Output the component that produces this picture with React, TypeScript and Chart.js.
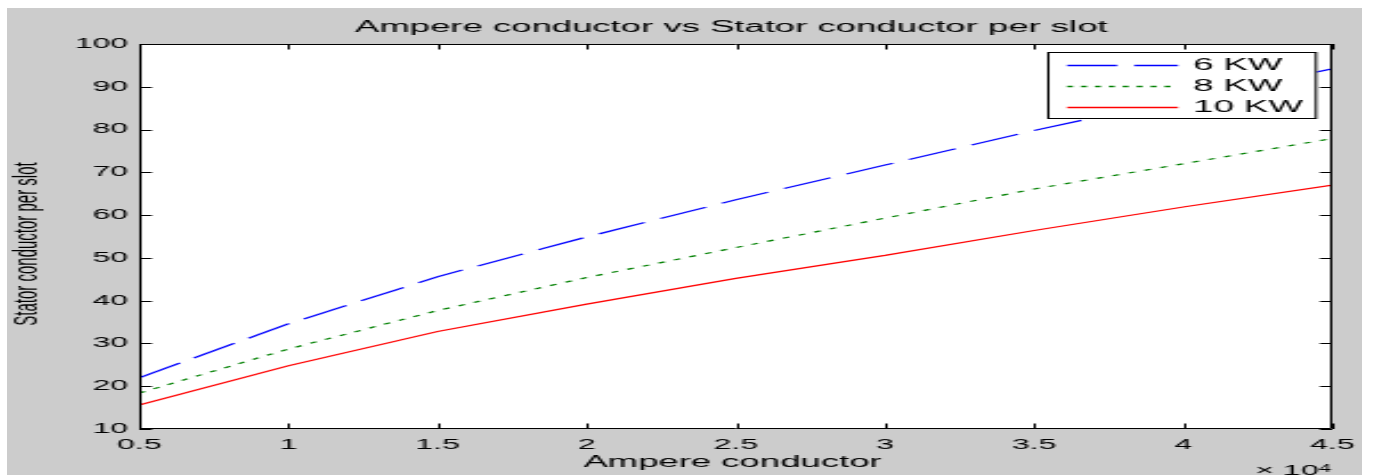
import React, { useEffect, useRef } from 'react';
import { Chart, registerables } from 'chart.js';

Chart.register(...registerables);

// ---- data (x in ampere conductors, displayed as x10^4) ----
const ampereConductor = [5000, 10000, 15000, 20000, 25000, 30000, 35000, 40000, 45000];
const kw6 = [22.0, 34.6, 45.6, 54.9, 63.6, 71.7, 79.8, 87.2, 94.2];
const kw8 = [18.4, 28.7, 37.7, 45.4, 52.4, 59.3, 66.1, 72.0, 77.9];
const kw10 = [15.6, 24.8, 32.8, 39.2, 45.2, 50.6, 56.4, 61.9, 67.0];
const seriesLabels = ['6 KW', '8 KW', '10 KW'];
const seriesColors = ['#0000ff', '#008000', '#ff0000'];
const xTickValues = [5000, 10000, 15000, 20000, 25000, 30000, 35000, 40000, 45000];
const xTickLabels = ['0.5', '1', '1.5', '2', '2.5', '3', '3.5', '4', '4.5'];
const yTickValues = [10, 20, 30, 40, 50, 60, 70, 80, 90, 100];
const chartTitle = 'Ampere conductor vs Stator conductor per slot';
const xAxisTitle = 'Ampere conductor';
const yAxisTitle = 'Stator conductor per slot';
const xExponentBase = '\u00d7 10';
const xExponent = '4';

// The reference figure is stretched horizontally; draw at a narrow
// internal width and display the canvas stretched.
const INNER_W = 594;
const INNER_H = 467;
const CSS_W = 1355;
const FONT = '"Liberation Sans", Arial, Helvetica, sans-serif';

const frame = {
  id: 'matlabFrame',
  beforeDraw(chart: any) {
    const { ctx, chartArea: a } = chart;
    ctx.save();
    ctx.fillStyle = '#cccccc';
    ctx.fillRect(0, 0, chart.width, chart.height);
    ctx.fillStyle = '#ffffff';
    ctx.fillRect(a.left, a.top, a.right - a.left, a.bottom - a.top);
    ctx.restore();
  },
  afterDraw(chart: any) {
    const { ctx, chartArea: a, scales } = chart;
    const xs = scales.x;
    const ys = scales.y;
    const tl = 5.5;
    ctx.save();
    ctx.setLineDash([]);
    ctx.strokeStyle = '#000000';
    ctx.lineWidth = 1;
    // box
    ctx.beginPath();
    ctx.rect(a.left + 0.5, a.top + 0.5, a.right - a.left - 1, a.bottom - a.top - 1);
    ctx.stroke();
    // inward ticks
    ctx.beginPath();
    xTickValues.forEach((v) => {
      const px = Math.round(xs.getPixelForValue(v)) + 0.5;
      ctx.moveTo(px, a.bottom);
      ctx.lineTo(px, a.bottom - tl);
      ctx.moveTo(px, a.top);
      ctx.lineTo(px, a.top + tl);
    });
    yTickValues.forEach((v) => {
      const py = Math.round(ys.getPixelForValue(v)) + 0.5;
      ctx.moveTo(a.left, py);
      ctx.lineTo(a.left + tl, py);
      ctx.moveTo(a.right, py);
      ctx.lineTo(a.right - tl, py);
    });
    ctx.stroke();

    ctx.fillStyle = '#000000';
    // title
    ctx.font = `16px ${FONT}`;
    ctx.textAlign = 'center';
    ctx.textBaseline = 'alphabetic';
    ctx.fillText(chartTitle, (a.left + a.right) / 2 - 2, 24);
    // x title
    ctx.fillText(xAxisTitle, (a.left + a.right) / 2 - 1.5, 459);
    // exponent
    ctx.textAlign = 'right';
    ctx.font = `10px ${FONT}`;
    ctx.fillText(xExponent, 580.5, 464);
    const ew = ctx.measureText(xExponent).width;
    ctx.font = `14px ${FONT}`;
    ctx.fillText(xExponentBase, 580.5 - ew, 466.5);
    // y title
    ctx.save();
    ctx.translate(12.8, 236);
    ctx.rotate(-Math.PI / 2);
    ctx.font = `15px ${FONT}`;
    ctx.textAlign = 'center';
    ctx.textBaseline = 'alphabetic';
    ctx.fillText(yAxisTitle, 0, 0);
    ctx.restore();

    // legend
    const lx0 = 456;
    const ly0 = 44;
    const lx1 = 574.3;
    const ly1 = 111;
    ctx.fillStyle = '#ffffff';
    ctx.fillRect(lx0, ly0, lx1 - lx0, ly1 - ly0);
    ctx.strokeStyle = '#000000';
    ctx.lineWidth = 1;
    ctx.strokeRect(lx0 + 0.5, ly0 + 0.5, lx1 - lx0 - 1, ly1 - ly0 - 1);
    const rows = [57, 78, 99];
    const dashes = [[22, 7.5], [2.6, 3.5], []];
    seriesLabels.forEach((lab, i) => {
      ctx.save();
      ctx.beginPath();
      ctx.setLineDash(dashes[i]);
      ctx.strokeStyle = seriesColors[i];
      ctx.lineWidth = 1.6;
      ctx.moveTo(464.7, rows[i] + 0.5);
      ctx.lineTo(513.3, rows[i] + 0.5);
      ctx.stroke();
      ctx.restore();
      ctx.fillStyle = '#000000';
      ctx.font = `16px ${FONT}`;
      ctx.textAlign = 'left';
      ctx.textBaseline = 'middle';
      ctx.fillText(lab, 520, rows[i] + 1);
    });
    ctx.restore();
  },
};

export default function App() {
  const ref = useRef<HTMLCanvasElement | null>(null);
  useEffect(() => {
    if (!ref.current) return;
    const mk = (vals: number[]) => ampereConductor.map((x, i) => ({ x, y: vals[i] }));
    const chart = new Chart(ref.current, {
      type: 'line',
      data: {
        datasets: [
          { label: seriesLabels[0], data: mk(kw6), borderColor: seriesColors[0], borderWidth: 1.2, borderDash: [23, 8], pointRadius: 0, tension: 0, fill: false },
          { label: seriesLabels[1], data: mk(kw8), borderColor: seriesColors[1], borderWidth: 1.2, borderDash: [3, 4.5], pointRadius: 0, tension: 0, fill: false },
          { label: seriesLabels[2], data: mk(kw10), borderColor: seriesColors[2], borderWidth: 1.2, pointRadius: 0, tension: 0, fill: false },
        ],
      },
      options: {
        responsive: false,
        animation: false,
        devicePixelRatio: 1,
        layout: { padding: { top: 36, right: 13, left: 0, bottom: 0 } },
        plugins: {
          legend: { display: false },
          title: { display: false },
          tooltip: { enabled: false },
        },
        scales: {
          x: {
            type: 'linear',
            min: 5000,
            max: 45000,
            afterBuildTicks: (s: any) => {
              s.ticks = xTickValues.map((v) => ({ value: v }));
            },
            afterFit: (s: any) => {
              s.height = 46;
            },
            ticks: {
              autoSkip: false,
              maxRotation: 0,
              padding: 1,
              color: '#000000',
              font: { family: FONT, size: 14 },
              callback: (v: any) => xTickLabels[xTickValues.indexOf(Number(v))],
            },
            grid: { drawOnChartArea: false, drawTicks: true, tickLength: 7, color: 'rgba(0,0,0,0)' },
            border: { display: false },
          },
          y: {
            type: 'linear',
            min: 10,
            max: 100,
            afterBuildTicks: (s: any) => {
              s.ticks = yTickValues.map((v) => ({ value: v }));
            },
            afterFit: (s: any) => {
              s.width = 58;
            },
            ticks: {
              padding: 5,
              color: '#000000',
              font: { family: FONT, size: 14 },
              callback: (v: any) => String(v),
            },
            grid: { drawOnChartArea: false, drawTicks: false },
            border: { display: false },
          },
        },
      },
      plugins: [frame],
    });
    return () => chart.destroy();
  }, []);
  return (
    <div style={{ position: 'fixed', left: 7, top: 8, width: CSS_W, height: INNER_H }}>
      <canvas
        ref={ref}
        width={INNER_W}
        height={INNER_H}
        style={{ width: CSS_W + 'px', height: INNER_H + 'px', display: 'block' }}
      />
    </div>
  );
}
